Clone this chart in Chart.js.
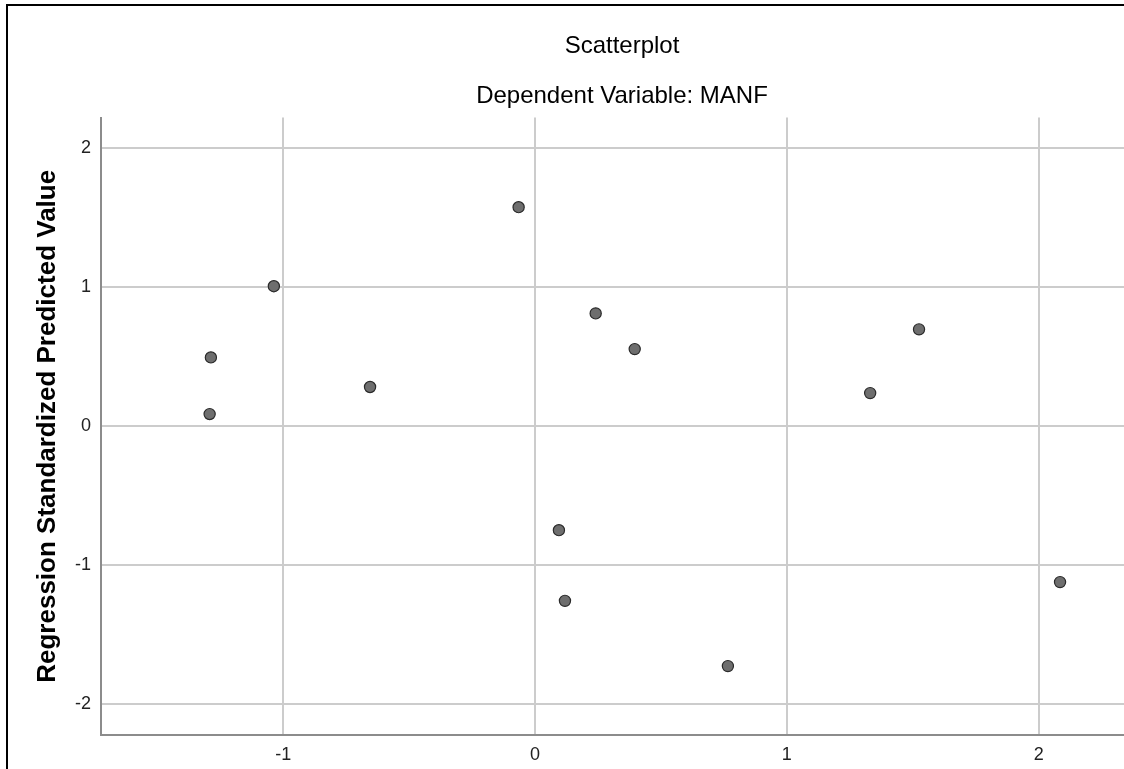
<!DOCTYPE html>
<html>
<head>
<meta charset="utf-8">
<script src="https://cdn.jsdelivr.net/npm/chart.js@4.4.1/dist/chart.umd.min.js"></script>
<style>
  html, body { margin: 0; padding: 0; background: #fff; overflow: hidden; }
  #wrap { position: relative; width: 1124px; height: 769px; overflow: hidden; }
  #myChart { position: absolute; left: 0; top: 0; }
  #frame { position: absolute; left: 6px; top: 4px; width: 2000px; height: 2000px;
           border-left: 2px solid #000; border-top: 2px solid #000; pointer-events: none; }
</style>
</head>
<body>
<div id="wrap">
  <canvas id="myChart" width="1244" height="769"></canvas>
  <div id="frame"></div>
</div>
<script>
// residuals (x) vs standardized predicted values (y)
let residualX = [-1.037, -1.287, -1.292, -0.655, -0.065, 0.241, 0.396, 0.095, 0.119, 0.766, 1.331, 1.525, 2.085];
let predictedY = [1.007, 0.494, 0.086, 0.281, 1.576, 0.811, 0.554, -0.750, -1.259, -1.729, 0.237, 0.696, -1.124];

let xTicks = [-1, 0, 1, 2];
let yTicks = [-2, -1, 0, 1, 2];

let points = [];
residualX.forEach((x, i) => {
  points.push({ x: x, y: predictedY[i] });
});

const fontFam = '"Liberation Sans", Arial, sans-serif';
const ctx = document.getElementById('myChart');

new Chart(ctx, {
  type: 'scatter',
  data: {
    datasets: [{
      data: points,
      backgroundColor: '#6e6e6e',
      borderColor: '#2a2a2a',
      borderWidth: 1.2,
      pointRadius: 5.6,
      pointHoverRadius: 5.6
    }]
  },
  options: {
    responsive: false,
    animation: false,
    layout: { padding: { top: 32, left: 0, right: 0, bottom: 0 } },
    plugins: {
      legend: { display: false },
      tooltip: { enabled: false },
      title: {
        display: true,
        text: 'Scatterplot',
        color: '#000',
        font: { family: fontFam, size: 24, weight: 'normal' },
        padding: { top: 0, bottom: 21 }
      },
      subtitle: {
        display: true,
        text: 'Dependent Variable: MANF',
        color: '#000',
        font: { family: fontFam, size: 24, weight: 'normal' },
        padding: { top: 0, bottom: 7 }
      }
    },
    scales: {
      x: {
        type: 'linear',
        min: -1.7234,
        max: 2.7885,
        afterBuildTicks: (scale) => { scale.ticks = xTicks.map(v => ({ value: v })); },
        afterFit: (scale) => { scale.height = 34; },
        ticks: {
          color: '#222',
          font: { family: fontFam, size: 18 },
          padding: 9
        },
        grid: { color: '#cccccc', lineWidth: 2, drawTicks: false },
        border: { display: true, color: '#8c8c8c', width: 2 }
      },
      y: {
        type: 'linear',
        min: -2.225,
        max: 2.221,
        afterBuildTicks: (scale) => { scale.ticks = yTicks.map(v => ({ value: v })); },
        afterFit: (scale) => { scale.width = 101; },
        ticks: {
          color: '#222',
          font: { family: fontFam, size: 18 },
          padding: 10
        },
        grid: { color: '#cccccc', lineWidth: 2, drawTicks: false },
        border: { display: true, color: '#8c8c8c', width: 2 },
        title: {
          display: true,
          text: 'Regression Standardized Predicted Value',
          color: '#000',
          font: { family: fontFam, size: 26, weight: 'bold' },
          padding: { top: 32, bottom: 0 }
        }
      }
    }
  }
});
</script>
</body>
</html>
